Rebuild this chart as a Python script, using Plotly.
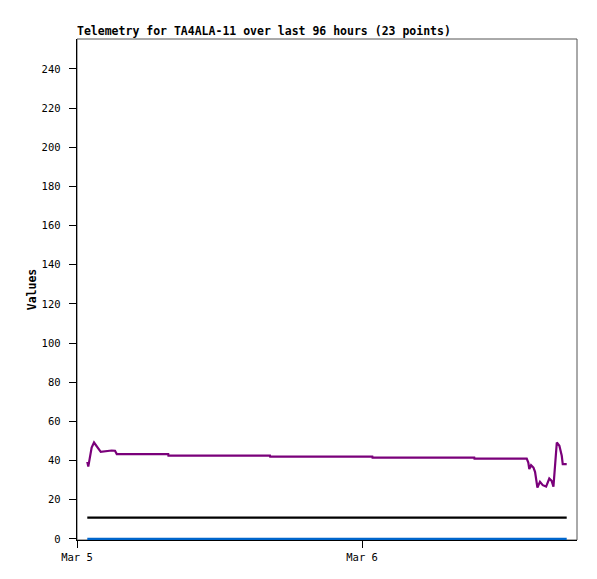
import plotly.graph_objects as go

# Purple series (telemetry channel) - times and values
purple_times = [
    "2024-03-05 00:52", "2024-03-05 00:57", "2024-03-05 01:05", "2024-03-05 01:14",
    "2024-03-05 01:26", "2024-03-05 01:36", "2024-03-05 01:48", "2024-03-05 02:00",
    "2024-03-05 02:55", "2024-03-05 03:12", "2024-03-05 03:21",
    "2024-03-05 07:41", "2024-03-05 07:42",
    "2024-03-05 16:15", "2024-03-05 16:16",
    "2024-03-06 00:52", "2024-03-06 00:53",
    "2024-03-06 09:27", "2024-03-06 09:28",
    "2024-03-06 13:52", "2024-03-06 14:00", "2024-03-06 14:05", "2024-03-06 14:14",
    "2024-03-06 14:26", "2024-03-06 14:34", "2024-03-06 14:46", "2024-03-06 14:59",
    "2024-03-06 15:13", "2024-03-06 15:30", "2024-03-06 15:46", "2024-03-06 15:58",
    "2024-03-06 16:07", "2024-03-06 16:15", "2024-03-06 16:24", "2024-03-06 16:37",
    "2024-03-06 16:49", "2024-03-06 16:54", "2024-03-06 17:14",
]
purple_values = [
    39.3, 36.9, 41.5, 46.6,
    49.2, 47.8, 45.8, 44.4,
    45.1, 45.0, 43.3,
    43.3, 42.5,
    42.5, 42.0,
    42.0, 41.5,
    41.5, 41.0,
    41.0, 39.0, 35.6, 37.6,
    36.4, 34.2, 26.2, 29.1,
    27.4, 26.7, 30.8, 29.6,
    26.7, 37.3, 49.2, 47.5,
    42.4, 38.2, 38.2,
]

flat_times = ["2024-03-05 00:52", "2024-03-06 17:14"]
black_values = [10.8, 10.8]
blue_values = [0, 0]

y_ticks = list(range(0, 241, 20))
y_ticktext = [f"{v}\u00a0" for v in y_ticks]
x_tickvals = ["2024-03-05", "2024-03-06"]
x_ticktext = ["Mar 5", "Mar 6"]

FONT = "DejaVu Sans Mono"
W, H = 589, 563  # page body has an 8px margin

fig = go.Figure()
fig.add_trace(go.Scatter(x=flat_times, y=blue_values, mode="lines",
                         line=dict(color="#0066cc", width=2.2), showlegend=False))
fig.add_trace(go.Scatter(x=flat_times, y=black_values, mode="lines",
                         line=dict(color="#000000", width=2.2), showlegend=False))
fig.add_trace(go.Scatter(x=purple_times, y=purple_values, mode="lines",
                         line=dict(color="#7a007a", width=2.2), showlegend=False))

fig.update_layout(
    width=W, height=H,
    margin=dict(l=69, r=20, t=31, b=31),
    paper_bgcolor="white", plot_bgcolor="white",
    font=dict(family=FONT, size=10, color="black"),
    title=dict(text="<b>Telemetry for TA4ALA-11 over last 96 hours (23 points)</b>",
               x=69/W, xanchor="left", xref="container",
               y=1 - 23/H, yanchor="middle", yref="container",
               font=dict(family=FONT, size=11.5, color="black")),
    xaxis=dict(range=["2024-03-05 00:00", "2024-03-06 18:06"],
               tickvals=x_tickvals, ticktext=x_ticktext, automargin=False,
               showgrid=False, zeroline=False, layer="below traces",
               showline=True, linecolor="black", linewidth=1,
               ticks="outside", ticklen=7, tickcolor="black", tickwidth=1,
               tickfont=dict(family=FONT, size=10.5)),
    yaxis=dict(range=[-0.6, 255.3], tickvals=y_ticks, ticktext=y_ticktext,
               automargin=False,
               showgrid=False, zeroline=False, layer="below traces",
               showline=True, linecolor="black", linewidth=1,
               ticks="outside", ticklen=7, tickcolor="black", tickwidth=1,
               tickfont=dict(family=FONT, size=10.5),
               title=dict(text="<b>Values</b>", standoff=2,
                          font=dict(family=FONT, size=11.5))),
    shapes=[dict(type="rect", xref="paper", yref="paper", x0=0, x1=1, y0=0, y1=1,
                 line=dict(color="#555555", width=1), layer="below")],
)

fig.write_html("out.html")
